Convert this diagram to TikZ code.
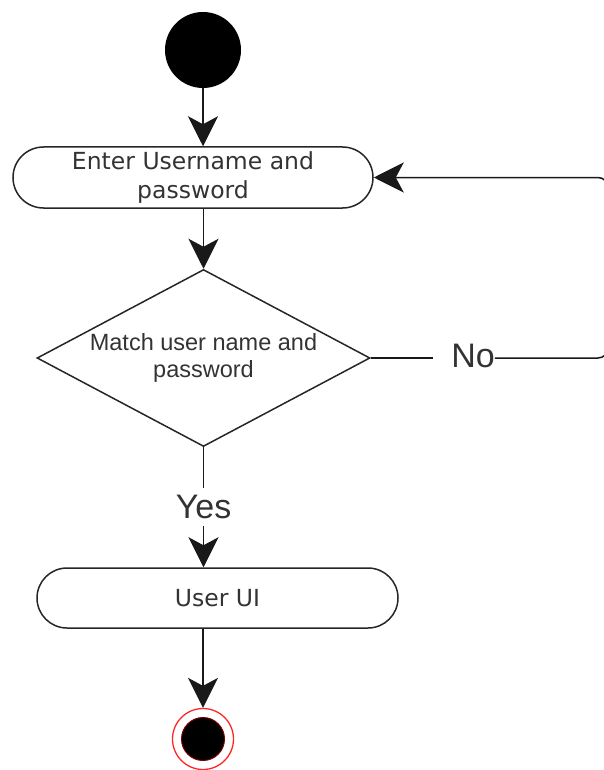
\documentclass[tikz,border=0pt]{standalone}
\usepackage{fontspec}
\usetikzlibrary{arrows.meta,shapes.geometric,shapes.misc}
\newfontfamily\boxfont{DejaVu Sans}
\newfontfamily\arialfont{Liberation Sans}
\definecolor{txt}{HTML}{333333}
\tikzset{
  line/.style={line width=1.5pt, draw=black!90},
  arr/.style={line, -{Stealth[length=30pt,width=30pt,inset=8pt]}},
  actbox/.style={rounded rectangle, draw=black!85, line width=1.5pt, inner sep=0pt,
    text=txt, align=center, font=\boxfont\fontsize{23.5}{29}\selectfont},
  decbox/.style={diamond, draw=black!85, line width=1.5pt, inner sep=0pt, aspect=1.9,
    minimum width=333pt, minimum height=177pt, text=txt, align=center,
    font=\arialfont\fontsize{23.5}{27}\selectfont},
  guard/.style={inner sep=0pt, text=txt, font=\arialfont\fontsize{34}{38}\selectfont},
}
\begin{document}
\begin{tikzpicture}[x=1pt,y=-1pt]
\useasboundingbox (0,0) rectangle (603,770);
\node[circle, fill=black, minimum size=76pt, inner sep=0pt] (start) at (203,50) {};
\node[actbox, minimum width=360pt, minimum height=61pt] (box1) at (193,177.5) {Enter Username and\\password};
\node[decbox] (dec) at (203.5,358) {Match user name and\\password};
\node[guard, minimum height=38pt] (yes) at (203.5,507) {Yes};
\node[guard] (no) at (473,356) {No};
\node[actbox, minimum width=361pt, minimum height=60pt] (box2) at (217.5,598) {User UI};
\node[circle, draw=red!85, line width=1.3pt, minimum size=61pt, inner sep=0pt] (end) at (203,739) {};
\node[circle, fill=black, draw=red!50!black, line width=1pt, minimum size=43pt, inner sep=0pt] (endin) at (end) {};
\coordinate (cr) at (608,0);

\draw[arr] (start) -- (start.south |- box1.north);
\draw[arr] (dec.north |- box1.south) -- (dec.north);
\draw[line] (dec.south) -- (yes.north);
\draw[arr] (yes.south) -- (dec.south |- box2.north);
\draw[line] (dec.east) -- ([xshift=-18pt]dec.east -| no.west);
\draw[arr, rounded corners=10pt] (dec.east -| no.east) -- (dec.east -| cr) -- (box1.east -| cr) -- (box1.east);
\draw[arr] (end.north |- box2.south) -- (end.north);
\end{tikzpicture}
\end{document}
